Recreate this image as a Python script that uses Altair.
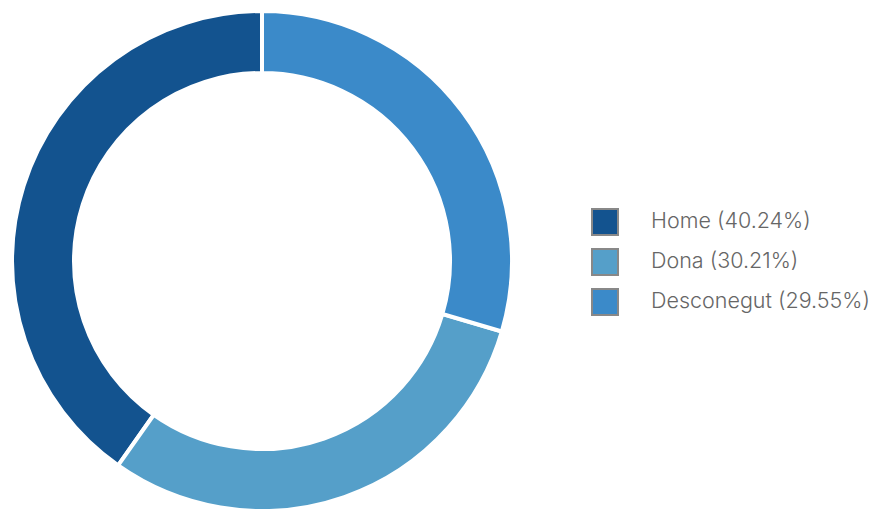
import altair as alt
import pandas as pd

categories = ["Home", "Dona", "Desconegut"]
values = [40.24, 30.21, 29.55]
pie_order = [3, 2, 1]
colors = ["#13538f", "#559fc9", "#3b8ac9"]

labels = [f"{c} ({v:.2f}%)" for c, v in zip(categories, values)]
df = pd.DataFrame({"cat": labels, "value": values, "ord": pie_order})

chart = alt.Chart(df).mark_arc(
    outerRadius=250, innerRadius=188, stroke="white", strokeWidth=4
).encode(
    x=alt.value(254),
    y=alt.value(253),
    theta=alt.Theta("value:Q", stack=True),
    order=alt.Order("ord:Q"),
    color=alt.Color(
        "cat:N",
        scale=alt.Scale(domain=labels, range=colors),
        legend=alt.Legend(
            title=None,
            orient="none",
            legendX=583,
            legendY=200,
            symbolType="square",
            symbolSize=676,
            symbolStrokeColor="#888888",
            symbolStrokeWidth=2,
            symbolOpacity=1,
            labelFont="Inter",
            labelFontWeight=300,
            labelFontSize=21.5,
            labelColor="#666666",
            labelOffset=32,
            rowPadding=6,
            labelLimit=400,
        ),
    ),
).properties(
    width=861, height=501, padding=0, autosize="none"
).configure_view(stroke=None)

chart.save("out.html", embed_options={"renderer": "svg", "actions": False})
